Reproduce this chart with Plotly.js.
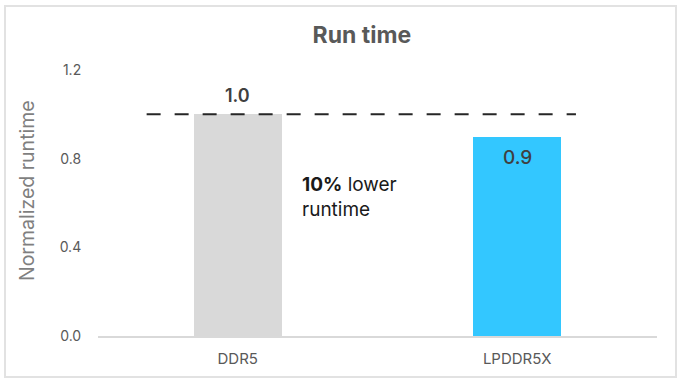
<!DOCTYPE html>
<html>
<head>
<meta charset="utf-8">
<script src="https://cdn.plot.ly/plotly-3.0.1.min.js"></script>
<style>
  html, body { margin: 0; padding: 0; background: #fff; }
  #wrap { position: relative; width: 684px; height: 385px; }
  #chart { width: 684px; height: 385px; }
  #frame { position: absolute; left: 4px; top: 5px; width: 669px; height: 369px;
           border: 2px solid #e2e2e2; pointer-events: none; }
</style>
</head>
<body>
<div id="wrap">
  <div id="chart"></div>
  <div id="frame"></div>
</div>
<script>
const categories = ["DDR5", "LPDDR5X"];
const runtimeValues = [1.0, 0.9];
const barColors = ["#d9d9d9", "#33c7ff"];
const valueLabels = ["1.0", "0.9"];
const yTickValues = [0.0, 0.4, 0.8, 1.2];
const yTickLabels = ["0.0", "0.4", "0.8", "1.2"];
const referenceLevel = 1.0;
const noteText = "<b>10%</b> lower<br>runtime";

const FONT = "Inter, 'Open Sans', sans-serif";

const trace = {
  type: "bar",
  x: categories,
  y: runtimeValues,
  marker: { color: barColors, line: { width: 0 } },
  width: 0.315,
  hoverinfo: "none"
};

const annotations = [
  {
    x: categories[0], y: runtimeValues[0], xref: "x", yref: "y",
    text: valueLabels[0], showarrow: false, yanchor: "bottom", yshift: 6,
    font: { family: FONT, size: 18, color: "#404040", weight: 600 }
  },
  {
    x: categories[1], y: runtimeValues[1], xref: "x", yref: "y",
    text: valueLabels[1], showarrow: false, yanchor: "top", yshift: -7,
    font: { family: FONT, size: 19, color: "#404040", weight: 500 }
  },
  {
    x: 0.362, y: 0.627, xref: "paper", yref: "y",
    text: noteText, showarrow: false, xanchor: "left", yanchor: "middle", align: "left",
    font: { family: FONT, size: 19, color: "#1a1a1a" }
  },
  {
    x: (27 - 98) / (684 - 98 - 27), y: 0.545, xref: "paper", yref: "paper",
    text: "Normalized runtime", showarrow: false, textangle: -90,
    xanchor: "center", yanchor: "middle",
    font: { family: FONT, size: 19.5, color: "#7f7f7f" }
  }
];

const layout = {
  width: 684, height: 385,
  margin: { l: 98, r: 27, t: 70, b: 49 },
  paper_bgcolor: "#ffffff",
  plot_bgcolor: "#ffffff",
  showlegend: false,
  title: {
    text: "<b>Run time</b>",
    x: 0.529, xanchor: "center", y: 0.91, yanchor: "middle",
    font: { family: FONT, size: 23, color: "#595959" }
  },
  xaxis: {
    type: "category",
    range: [-0.5, 1.5],
    showline: true, linecolor: "#d9d9d9", linewidth: 1.5,
    showgrid: false, zeroline: false,
    ticks: "outside", ticklen: 8, tickcolor: "rgba(0,0,0,0)",
    tickfont: { family: FONT, size: 15, color: "#595959" },
    fixedrange: true
  },
  yaxis: {
    range: [0, 1.2],
    tickvals: yTickValues, ticktext: yTickLabels,
    showline: false, showgrid: false, zeroline: false,
    ticks: "outside", ticklen: 13, tickcolor: "rgba(0,0,0,0)",
    tickfont: { family: FONT, size: 14, color: "#595959" },
    fixedrange: true
  },
  shapes: [
    {
      type: "line", xref: "paper", yref: "y",
      x0: 0.087, x1: 0.855, y0: referenceLevel, y1: referenceLevel,
      line: { color: "#262626", width: 2, dash: "14px,14px" },
      layer: "above"
    }
  ],
  annotations: annotations,
  bargap: 0
};

Plotly.newPlot("chart", [trace], layout, { displayModeBar: false, staticPlot: true });
</script>
</body>
</html>
